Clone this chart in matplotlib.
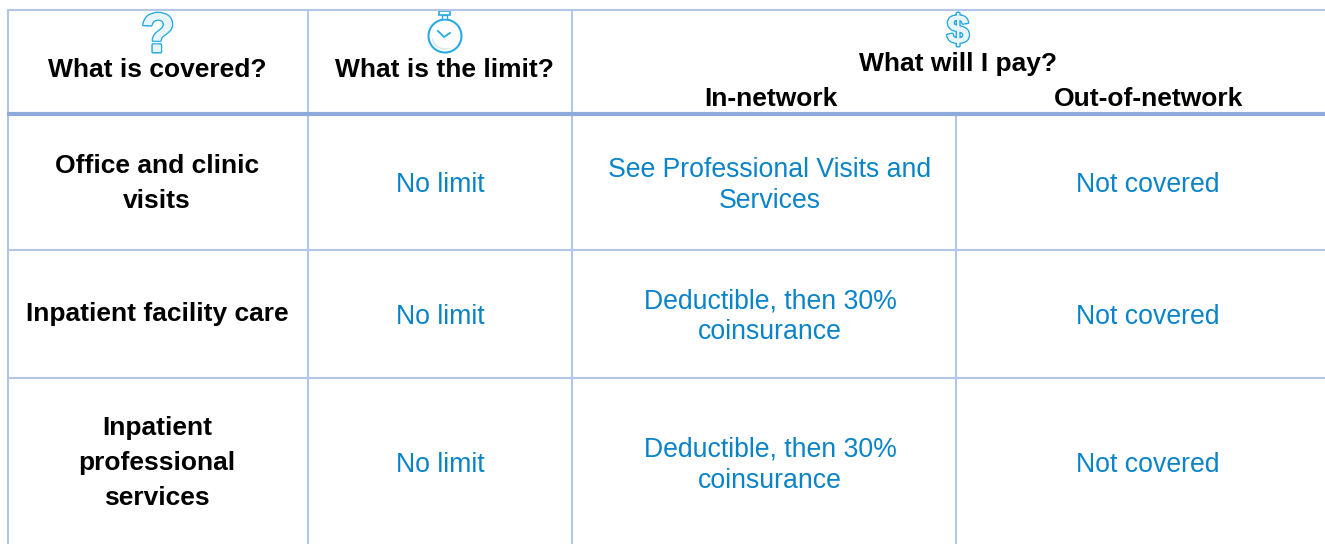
import matplotlib
matplotlib.use('Agg')
import matplotlib.pyplot as plt
from matplotlib.patches import Arc, Circle, Rectangle
import matplotlib.patheffects as pe

# --- Contenido de la tabla ---
encabezados = ['What is covered?', 'What is the limit?', 'What will I pay?']
subencabezados = ['In-network', 'Out-of-network']
filas = [['Office and clinic', 'visits'], ['Inpatient facility care'], ['Inpatient', 'professional', 'services']]
limites = ['No limit', 'No limit', 'No limit']
en_red = [['See Professional Visits and', 'Services'], ['Deductible, then 30%', 'coinsurance'], ['Deductible, then 30%', 'coinsurance']]
fuera_red = ['Not covered', 'Not covered', 'Not covered']

# --- Geometria en pixeles ---
W, H = 1325, 544
x_lineas = [8, 307.5, 572]
x_red = 956
y_top = 9.5
y_head = 113.5
y_filas = [250, 378]
x_centro = [157, 440, 770, 1148]
# lineas base del texto
base_filas = [[173, 208], [321.5], [435, 470, 505]]
base_simple = [192.5, 323.5, 472.5]
base_red = [[177, 208], [308, 339], [457, 488]]

# --- Colores ---
linea = '#B4C6E7'
linea_fuerte = '#8EAADB'
azul = '#0A84C8'
icono = '#29ABE2'

plt.rcParams['font.family'] = ['Liberation Sans', 'DejaVu Sans']

fig = plt.figure(figsize=(W / 100, H / 100), dpi=100)
ax = fig.add_axes([0, 0, 1, 1])
ax.set_xlim(0, W)
ax.set_ylim(H, 0)
ax.axis('off')

# --- Lineas ---
for x in x_lineas:
    ax.plot([x, x], [y_top, H], color=linea, lw=1.5, solid_capstyle='butt')
ax.plot([x_red, x_red], [y_head, H], color=linea, lw=1.5, solid_capstyle='butt')
ax.plot([7, W], [y_top, y_top], color=linea, lw=1.5, solid_capstyle='butt')
ax.plot([7, W], [y_head, y_head], color=linea_fuerte, lw=3, solid_capstyle='butt')
for y in y_filas:
    ax.plot([8, W], [y, y], color=linea, lw=1.5, solid_capstyle='butt')

# --- Iconos ---
contorno = [pe.withStroke(linewidth=2.2, foreground=icono), pe.Normal()]
ax.text(158, 52, '?', fontsize=40, fontweight='bold', color='#E8F6FC', ha='center', va='baseline', path_effects=contorno)
ax.text(958, 43, '$', fontsize=29, fontweight='bold', color='#E8F6FC', ha='center', va='baseline', path_effects=contorno)
ax.add_patch(Circle((445, 36), 16.5, fc='white', ec=icono, lw=1.5))
ax.add_patch(Arc((445, 36), 26, 26, theta1=70, theta2=170, color='#D5E6F2', lw=1.1))
ax.add_patch(Rectangle((439, 11), 11, 3.5, fc='white', ec=icono, lw=1.2))
ax.add_patch(Rectangle((442, 14.5), 5, 4.5, fc='white', ec=icono, lw=1.0))
ax.plot([438, 444, 450], [31, 37, 33], color=icono, lw=1.3)

# --- Encabezados ---
negrita = dict(fontsize=19, fontweight='bold', color='black', ha='center', va='baseline')
ax.text(157, 77, encabezados[0], **negrita)
ax.text(444, 77, encabezados[1], **negrita)
ax.text(958, 71, encabezados[2], **negrita)
ax.text(771, 105.5, subencabezados[0], **negrita)
ax.text(1149, 105.5, subencabezados[1], **negrita)

# --- Celdas ---
normal = dict(fontsize=19.2, color=azul, ha='center', va='baseline')
for i in range(3):
    for texto, y in zip(filas[i], base_filas[i]):
        ax.text(x_centro[0], y, texto, **negrita)
    ax.text(x_centro[1], base_simple[i], limites[i], **normal)
    for texto, y in zip(en_red[i], base_red[i]):
        ax.text(x_centro[2], y, texto, **normal)
    ax.text(x_centro[3], base_simple[i], fuera_red[i], **normal)

fig.savefig('out.png', dpi=100)
